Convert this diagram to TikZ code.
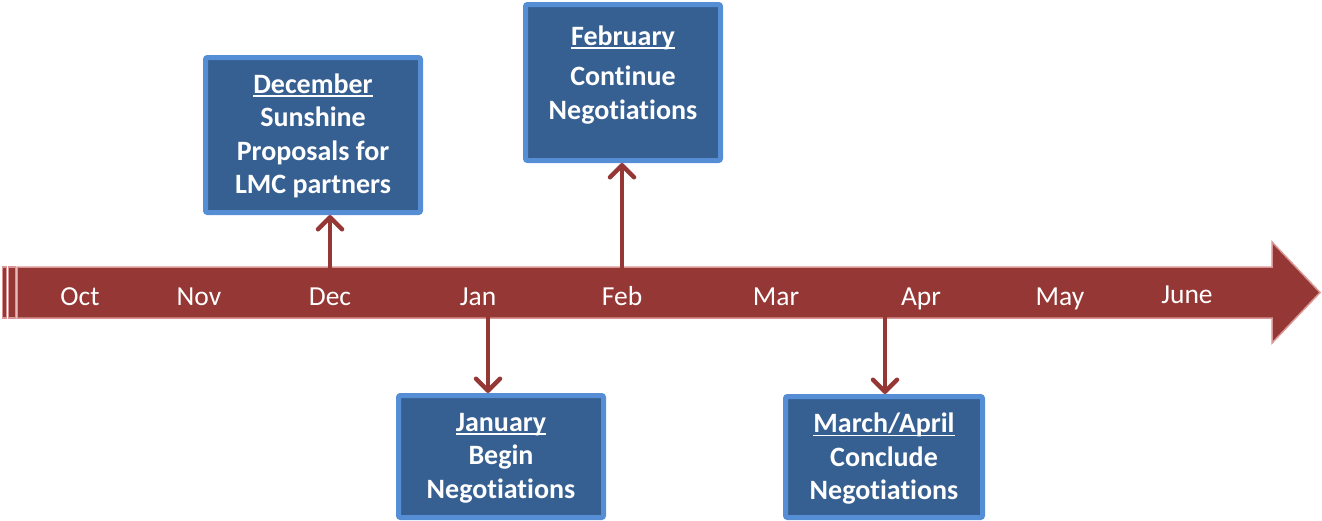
\documentclass[tikz,border=0pt]{standalone}
\usepackage{fontspec}
\setmainfont{Carlito}[Ligatures={NoCommon}]
\usetikzlibrary{arrows.meta}
\definecolor{tlfill}{HTML}{953735}
\definecolor{tledge}{HTML}{D99694}
\definecolor{boxfill}{HTML}{376092}
\definecolor{boxedge}{HTML}{558ED5}
\newcommand\myul[1]{\leavevmode\setbox0\hbox{#1}\rlap{\rule[-3.5pt]{\wd0}{1.8pt}}\box0}
\tikzset{
  x=1pt, y=-1pt,
  tlshape/.style={fill=tlfill, draw=tledge, line width=1.5pt, line join=miter},
  eventbox/.style={draw=boxedge, fill=boxfill, line width=5pt, rounded corners=2pt, inner sep=0pt},
  boxtext/.style={text=white, font=\fontsize{28}{33.5}\selectfont\bfseries, align=center, inner sep=0pt},
  month/.style={text=white, font=\fontsize{27.5}{30}\selectfont, anchor=base, inner sep=0pt},
  conn/.style={draw=tlfill, line width=4.5pt, -{Straight Barb[length=12pt,width=24pt,line cap=round,line join=round]}}
}
\begin{document}
\begin{tikzpicture}
\useasboundingbox (0,0) rectangle (1322,520);
% timeline arrow
\path[tlshape] (2.5,267) rectangle (6.5,318);
\path[tlshape] (8.5,267) rectangle (15.5,318);
\path[tlshape] (17,267) -- (1272,267) -- (1272,242) -- (1320,292.5) -- (1272,343) -- (1272,318) -- (17,318) -- cycle;
% months
\node[month] (oct) at (80,305) {Oct};
\node[month] (nov) at (199,305) {Nov};
\node[month] (decm) at (330,305) {Dec};
\node[month] (janm) at (478,305) {Jan};
\node[month] (febm) at (622,305) {Feb};
\node[month] (mar) at (776,305) {Mar};
\node[month] (apr) at (921,305) {Apr};
\node[month] (may) at (1060,305) {May};
\node[month] (june) at (1187,303) {June};
% timeline coordinates
\coordinate (tDec) at (330,268);
\coordinate (tFeb) at (622,268);
\coordinate (tJan) at (488,317);
\coordinate (tApr) at (885,317);
% boxes
\node[eventbox, minimum width=215pt, minimum height=155pt] (dec) at (313,135) {};
\node[boxtext] (dectext) at (313,136) {\myul{December}\\Sunshine\\Proposals for\\LMC partners};
\node[eventbox, minimum width=195pt, minimum height=156pt] (feb) at (623,82.5) {};
\node[boxtext] (febtext) at (623,75) {\myul{February}\\[6.5pt]Continue\\Negotiations};
\node[eventbox, minimum width=205pt, minimum height=122pt] (jan) at (501,456.5) {};
\node[boxtext] (jantext) at (501,458) {\myul{January}\\Begin\\Negotiations};
\node[eventbox, minimum width=197pt, minimum height=121pt] (marapr) at (884,457) {};
\node[boxtext] (maraprtext) at (884,459) {\myul{March/April}\\Conclude\\Negotiations};
% connectors
\draw[conn] (tDec) -- (tDec |- dec.south);
\draw[conn] (tFeb) -- (tFeb |- feb.south);
\draw[conn] (tJan) -- (tJan |- jan.north);
\draw[conn] (tApr) -- (tApr |- marapr.north);
\end{tikzpicture}
\end{document}
